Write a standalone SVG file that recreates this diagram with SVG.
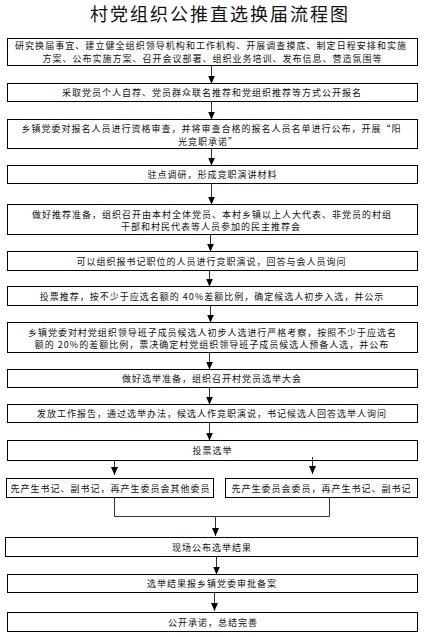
<svg xmlns="http://www.w3.org/2000/svg" width="427" height="637" viewBox="0 0 427 637">
<style>
  .box { fill: #fff; stroke: #000; stroke-width: 1; }
  .t { font-family: "Noto Sans CJK SC", "Liberation Sans", sans-serif; font-size: 9px; letter-spacing: 1px; fill: #111; text-anchor: middle; dominant-baseline: central; }
  .title { font-family: "Noto Sans CJK SC", "Liberation Sans", sans-serif; font-size: 18px; letter-spacing: 2px; fill: #111; text-anchor: middle; dominant-baseline: central; }
  .c { fill: none; stroke: #333; stroke-width: 1; }
</style>
<defs>
  <marker id="ah" markerUnits="userSpaceOnUse" markerWidth="8" markerHeight="7" refX="8" refY="3.5" orient="auto">
    <path d="M0,0 L8,3.5 L0,7 z" fill="#000"/>
  </marker>
</defs>
<rect width="427" height="637" fill="#fff"/>
<text class="title" x="220" y="12.5">村党组织公推直选换届流程图</text>

<g id="n1"><rect class="box" x="7.5" y="38.5" width="410" height="27"/>
<text class="t" x="211" y="45.5" textLength="392" lengthAdjust="spacing">研究换届事宜、建立健全组织领导机构和工作机构、开展调查摸底、制定日程安排和实施</text>
<text class="t" x="212.5" y="58.5">方案、公布实施方案、召开会议部署、组织业务培训、发布信息、营造氛围等</text></g>

<g id="n2"><rect class="box" x="7.5" y="83.5" width="410" height="18"/>
<text class="t" x="212" y="92.5">采取党员个人自荐、党员群众联名推荐和党组织推荐等方式公开报名</text></g>

<g id="n3"><rect class="box" x="7.5" y="119.5" width="410" height="29"/>
<text class="t" x="211.5" y="128.5">乡镇党委对报名人员进行资格审查，并将审查合格的报名人员名单进行公布，开展“阳</text>
<text class="t" x="208" y="141">光竞职承诺”</text></g>

<g id="n4"><rect class="box" x="7.5" y="165.5" width="410" height="18"/>
<text class="t" x="212.5" y="174.5">驻点调研，形成竞职演讲材料</text></g>

<g id="n5"><rect class="box" x="7.5" y="204.5" width="410" height="30"/>
<text class="t" x="212" y="214" textLength="360" lengthAdjust="spacing">做好推荐准备，组织召开由本村全体党员、本村乡镇以上人大代表、非党员的村组</text>
<text class="t" x="211" y="226.7">干部和村民代表等人员参加的民主推荐会</text></g>

<g id="n6"><rect class="box" x="7.5" y="251.5" width="410" height="19"/>
<text class="t" x="211.5" y="261">可以组织报书记职位的人员进行竞职演说，回答与会人员询问</text></g>

<g id="n7"><rect class="box" x="7.5" y="286.5" width="410" height="19"/>
<text class="t" x="212" y="296">投票推荐，按不少于应选名额的 40%差额比例，确定候选人初步入选，并公示</text></g>

<g id="n8"><rect class="box" x="7.5" y="322.5" width="410" height="30"/>
<text class="t" x="212.5" y="332" textLength="369" lengthAdjust="spacing">乡镇党委对村党组织领导班子成员候选人初步人选进行严格考察，按照不少于应选名</text>
<text class="t" x="212" y="344.3">额的 20%的差额比例，票决确定村党组织领导班子成员候选人预备人选，并公布</text></g>

<g id="n9"><rect class="box" x="7.5" y="369.5" width="410" height="18"/>
<text class="t" x="212" y="378.5">做好选举准备，组织召开村党员选举大会</text></g>

<g id="n10"><rect class="box" x="7.5" y="404.5" width="410" height="18"/>
<text class="t" x="212" y="413.5">发放工作报告，通过选举办法，候选人作竞职演说，书记候选人回答选举人询问</text></g>

<g id="n11"><rect class="box" x="7.5" y="440.5" width="410" height="20"/>
<text class="t" x="212.5" y="450.5">投票选举</text></g>

<g id="n12"><rect class="box" x="6.5" y="478.5" width="207" height="19"/>
<text class="t" x="110.5" y="488">先产生书记、副书记，再产生委员会其他委员</text></g>

<g id="n13"><rect class="box" x="225.5" y="478.5" width="192" height="19"/>
<text class="t" x="321.5" y="488">先产生委员会委员，再产生书记、副书记</text></g>

<g id="n14"><rect class="box" x="5.5" y="537.5" width="412" height="19"/>
<text class="t" x="212" y="547">现场公布选举结果</text></g>

<g id="n15"><rect class="box" x="7.5" y="574.5" width="410" height="18"/>
<text class="t" x="212" y="583.5">选举结果报乡镇党委审批备案</text></g>

<g id="n16"><rect class="box" x="7.5" y="612.5" width="410" height="19"/>
<text class="t" x="213" y="622">公开承诺，总结完善</text></g>

<g id="connectors">
  <line class="c" x1="211.5" y1="65.5" x2="211.5" y2="83.5" marker-end="url(#ah)"/>
  <line class="c" x1="211.5" y1="101.5" x2="211.5" y2="119.5" marker-end="url(#ah)"/>
  <line class="c" x1="211.5" y1="148.5" x2="211.5" y2="165.5" marker-end="url(#ah)"/>
  <line class="c" x1="211.5" y1="183.5" x2="211.5" y2="204.5" marker-end="url(#ah)"/>
  <line class="c" x1="210.5" y1="234.5" x2="210.5" y2="251.5" marker-end="url(#ah)"/>
  <line class="c" x1="209.5" y1="270.5" x2="209.5" y2="286.5" marker-end="url(#ah)"/>
  <line class="c" x1="210.5" y1="305.5" x2="210.5" y2="322.5" marker-end="url(#ah)"/>
  <line class="c" x1="209.5" y1="352.5" x2="209.5" y2="369.5" marker-end="url(#ah)"/>
  <line class="c" x1="209.5" y1="387.5" x2="209.5" y2="404.5" marker-end="url(#ah)"/>
  <line class="c" x1="209.5" y1="422.5" x2="209.5" y2="440.5" marker-end="url(#ah)"/>
  <line class="c" x1="114.5" y1="460.5" x2="114.5" y2="475" marker-end="url(#ah)"/>
  <line class="c" x1="312.5" y1="457" x2="312.5" y2="474" marker-end="url(#ah)"/>
  <polyline class="c" points="114.5,497.5 114.5,516.5 329.5,516.5 329.5,497.5"/>
  <line class="c" x1="215.5" y1="516.5" x2="215.5" y2="536" marker-end="url(#ah)"/>
  <line class="c" x1="216.5" y1="556.5" x2="216.5" y2="574.5" marker-end="url(#ah)"/>
  <line class="c" x1="214.5" y1="592.5" x2="214.5" y2="611" marker-end="url(#ah)"/>
</g>
</svg>
